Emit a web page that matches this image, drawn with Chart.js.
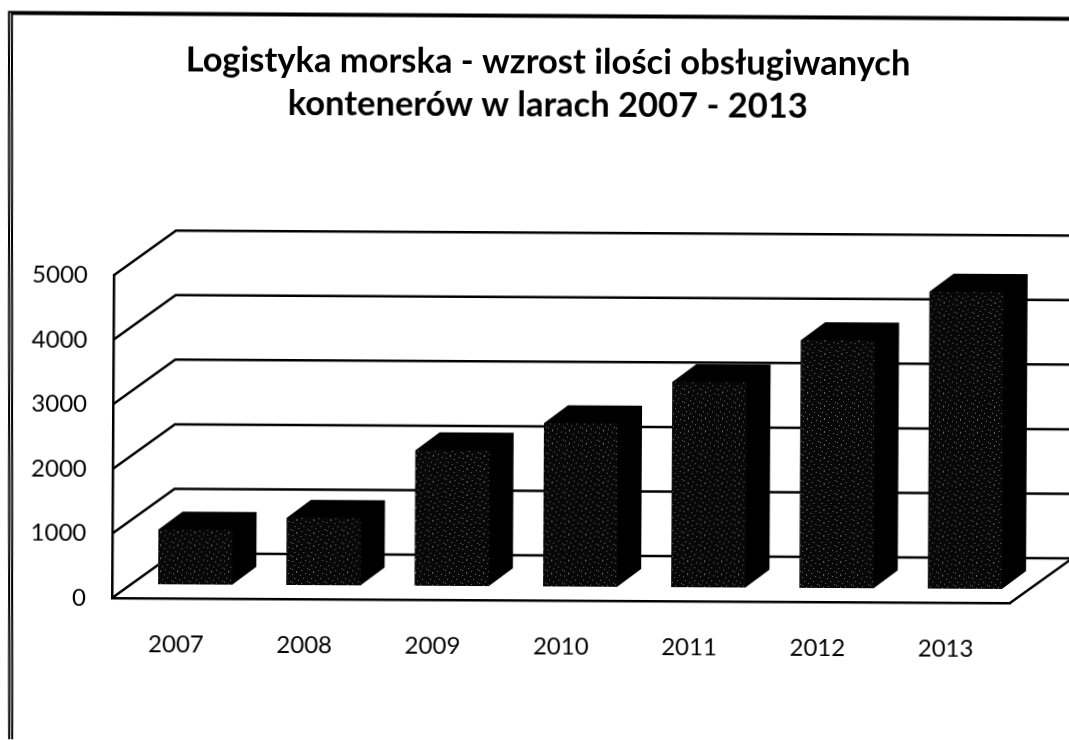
<!DOCTYPE html>
<html>
<head>
<meta charset="utf-8">
<script src="https://cdn.jsdelivr.net/npm/chart.js@4"></script>
<style>
    html, body { margin: 0; padding: 0; background: #fff; overflow: hidden; }
    /* the reference is a slightly crooked scan */
    #chart { display: block; transform-origin: 112px 598px; transform: rotate(0.32deg); }
</style>
</head>
<body>
<canvas id="chart" width="1069" height="740"></canvas>
<script>
const years = ['2007', '2008', '2009', '2010', '2011', '2012', '2013'];
const containers = [850, 1040, 2100, 2530, 3180, 3840, 4600];
const titleLines = ['Logistyka morska - wzrost ilości obsługiwanych', 'kontenerów w larach 2007 - 2013'];

// speckled toner look of the bar fronts
function speckle() {
    const tile = document.createElement('canvas');
    tile.width = 17;
    tile.height = 13;
    const t = tile.getContext('2d');
    t.fillStyle = '#080808';
    t.fillRect(0, 0, 17, 13);
    t.fillStyle = '#6e6e6e';
    [[1, 2], [5, 0], [9, 3], [14, 1], [3, 6], [7, 8], [12, 6], [16, 9], [1, 10], [10, 11], [5, 12]].forEach(function(p) {
        t.fillRect(p[0], p[1], 1, 1);
    });
    return t.createPattern(tile, 'repeat');
}

const depth = { x: 62, y: -45 };
const barShift = { x: 19, y: -14 };
const barDepth = { x: 24, y: -18 };

const box3d = {
    id: 'box3d',
    afterLayout(chart) {
        // title sits right of the plot centre
        chart.titleBlock.left += 28;
        chart.titleBlock.right += 28;
    },
    beforeDatasetsDraw(chart) {
        const ctx = chart.ctx;
        const y = chart.scales.y;
        const left = chart.chartArea.left;
        const right = chart.chartArea.right;

        ctx.save();
        ctx.strokeStyle = '#000';
        ctx.lineWidth = 2;

        // outer frame
        ctx.beginPath();
        ctx.moveTo(10, 745);
        ctx.lineTo(5.7, 12.5);
        ctx.lineTo(1080, 12.5);
        ctx.moveTo(13, 745);
        ctx.lineTo(8.7, 14.5);
        ctx.lineTo(1080, 14.5);
        ctx.stroke();

        // wall lines
        ctx.lineWidth = 2.5;
        y.ticks.forEach(function(tick) {
            const py = y.getPixelForValue(tick.value);
            ctx.beginPath();
            ctx.moveTo(left, py);
            ctx.lineTo(left + depth.x, py + depth.y);
            ctx.lineTo(1075, py + depth.y);
            ctx.stroke();
        });

        // floor, right edge
        const floor = y.getPixelForValue(0);
        ctx.beginPath();
        ctx.moveTo(right, floor);
        ctx.lineTo(right + depth.x, floor + depth.y);
        ctx.stroke();

        // whole box in black, the library paints the front on top of it
        ctx.translate(barShift.x, barShift.y);
        ctx.fillStyle = '#000';
        chart.getDatasetMeta(0).data.forEach(function(bar) {
            const l = bar.x - bar.width / 2;
            const r = bar.x + bar.width / 2;
            ctx.beginPath();
            ctx.moveTo(l, bar.y);
            ctx.lineTo(l + barDepth.x, bar.y + barDepth.y);
            ctx.lineTo(r + barDepth.x, bar.y + barDepth.y);
            ctx.lineTo(r + barDepth.x, bar.base + barDepth.y);
            ctx.lineTo(r, bar.base);
            ctx.lineTo(l, bar.base);
            ctx.closePath();
            ctx.fill();
        });
    },
    afterDatasetsDraw(chart) {
        chart.ctx.restore();
    }
};

const ctx = document.getElementById('chart').getContext('2d');
const containersChart = new Chart(ctx, {
    type: 'bar',
    data: {
        labels: years,
        datasets: [{
            label: 'Kontenery',
            data: containers,
            backgroundColor: speckle(),
            borderWidth: 0,
            barPercentage: 0.577,
            categoryPercentage: 1
        }]
    },
    options: {
        responsive: false,
        animation: false,
        layout: {
            padding: { left: 24, right: 59, top: 0, bottom: 0 }
        },
        plugins: {
            legend: {
                display: false
            },
            tooltip: {
                enabled: false
            },
            title: {
                display: true,
                text: titleLines,
                color: '#000',
                font: {
                    family: "Lato, 'Noto Sans', sans-serif",
                    size: 34.5,
                    weight: 'bold',
                    lineHeight: 1.25
                },
                padding: { top: 38.5, bottom: 150.5 }
            }
        },
        scales: {
            x: {
                grid: {
                    display: false
                },
                border: {
                    color: '#000',
                    width: 2.5
                },
                ticks: {
                    color: '#000',
                    padding: 24,
                    font: {
                        family: "Lato, 'Noto Sans', sans-serif",
                        size: 24
                    }
                },
                afterFit: function(scale) {
                    scale.height = 142;
                }
            },
            y: {
                min: 0,
                max: 5000,
                grid: {
                    display: false
                },
                border: {
                    color: '#000',
                    width: 2.5
                },
                ticks: {
                    stepSize: 1000,
                    color: '#000',
                    padding: 18,
                    font: {
                        family: "Lato, 'Noto Sans', sans-serif",
                        size: 24
                    },
                    callback: function(value) {
                        return String(value);
                    }
                },
                afterFit: function(scale) {
                    scale.width = 88;
                }
            }
        }
    },
    plugins: [box3d]
});
</script>
</body>
</html>
